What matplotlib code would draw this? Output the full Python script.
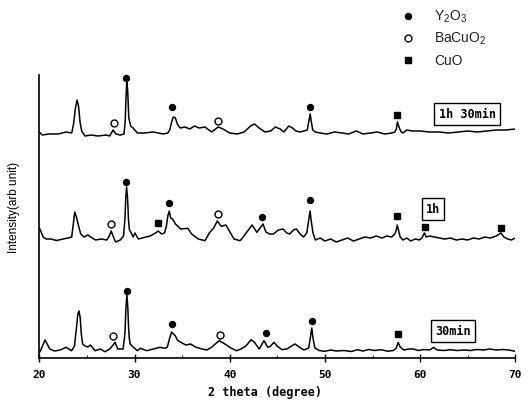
import matplotlib
matplotlib.use("Agg")
import matplotlib.pyplot as plt

plt.rcParams['mathtext.fontset'] = 'custom'
plt.rcParams['mathtext.rm'] = 'Liberation Sans'
plt.rcParams['mathtext.it'] = 'Liberation Sans'

# XRD patterns, (2 theta, intensity in arb. units, offsets included)
pts_1h30 = [(20.0, 226), (20.3, 223), (21.0, 224), (22.0, 224), (22.8, 226), (23.4, 225),
            (23.6, 234), (23.8, 250), (23.97, 258), (24.12, 252), (24.28, 236), (24.45, 227),
            (24.8, 222), (25.4, 223), (26.2, 222), (27.0, 223), (27.4, 222), (27.75, 228),
            (28.05, 224), (28.5, 223), (28.9, 224), (29.02, 236), (29.1, 258), (29.18, 276),
            (29.28, 268), (29.4, 240), (29.6, 232), (29.85, 230), (30.3, 225), (31.0, 225),
            (32.0, 226), (33.0, 224), (33.5, 225), (33.7, 228), (33.9, 236), (34.08, 241),
            (34.3, 240), (34.5, 234), (34.8, 230), (35.3, 231), (35.8, 229), (36.3, 232),
            (36.8, 230), (37.4, 231), (38.1, 226), (38.8, 231), (39.3, 229), (40.0, 225),
            (40.8, 224), (41.5, 226), (42.2, 232), (42.6, 234), (43.1, 230), (43.7, 226),
            (44.3, 227), (44.8, 231), (45.3, 229), (45.7, 226), (46.2, 232), (46.6, 230),
            (46.95, 227), (47.4, 226), (47.8, 227), (48.15, 228), (48.3, 236), (48.45, 244),
            (48.58, 236), (48.72, 228), (49.0, 226), (49.5, 225), (50.2, 224), (51.0, 226),
            (51.8, 225), (52.5, 224), (53.3, 227), (54.0, 224), (54.8, 225), (55.5, 226),
            (56.3, 224), (57.0, 225), (57.35, 226), (57.5, 229), (57.62, 236), (57.78, 231),
            (57.95, 227), (58.2, 225), (58.6, 228), (59.2, 227), (60.0, 227), (61.0, 226),
            (62.0, 226), (63.0, 225), (64.0, 226), (65.0, 227), (66.0, 226), (67.0, 227),
            (68.0, 228), (69.0, 228), (70.0, 229)]

pts_1h = [(20.0, 130), (20.15, 127), (20.4, 121), (20.7, 119), (21.2, 119), (21.8, 117.5),
          (22.5, 119), (23.0, 120), (23.4, 121), (23.55, 132), (23.72, 146), (23.9, 141),
          (24.1, 133), (24.35, 124), (24.7, 121), (25.1, 123), (25.4, 121), (25.9, 118),
          (26.5, 119), (27.1, 118), (27.35, 122), (27.55, 127), (27.75, 122), (28.0, 116),
          (28.5, 118), (28.85, 122), (29.0, 140), (29.08, 160), (29.17, 171), (29.27, 160),
          (29.37, 138), (29.47, 128), (29.6, 126), (29.85, 121), (30.05, 125), (30.4, 119),
          (31.1, 120.7), (31.65, 122), (32.2, 125), (32.5, 127), (32.85, 124), (33.15, 125),
          (33.35, 132), (33.5, 142), (33.65, 147), (33.8, 140), (34.0, 139), (34.3, 134),
          (34.85, 129), (35.6, 129.7), (36.0, 124), (36.7, 119), (37.4, 117.3), (37.9, 125.7),
          (38.3, 129.7), (38.7, 137), (39.1, 131.7), (39.6, 133), (39.95, 127.3), (40.45, 119),
          (41.1, 117.3), (41.65, 124), (42.35, 133), (42.85, 125.7), (43.5, 134), (43.8, 126),
          (44.2, 124), (44.6, 124), (45.1, 128), (45.6, 129), (46.0, 125), (46.3, 124),
          (46.7, 128), (47.0, 129), (47.4, 124), (47.75, 121), (48.1, 125), (48.3, 138),
          (48.44, 147), (48.58, 136), (48.75, 125), (49.0, 118), (49.5, 120), (50.0, 117),
          (50.6, 119), (51.2, 116), (51.8, 118), (52.4, 120), (53.0, 117), (53.6, 119),
          (54.2, 121), (54.8, 120), (55.4, 122), (56.0, 120), (56.5, 122), (57.0, 121),
          (57.35, 124), (57.5, 128), (57.6, 133), (57.75, 127), (57.9, 121), (58.2, 118),
          (58.6, 120), (59.0, 117), (59.5, 119), (59.9, 118), (60.2, 120), (60.45, 125),
          (60.65, 121), (61.0, 122), (61.5, 121), (62.0, 120), (62.6, 119), (63.2, 120),
          (63.8, 118), (64.4, 119), (65.0, 118), (65.6, 120), (66.2, 119), (66.8, 121),
          (67.4, 120), (68.0, 122), (68.5, 125), (68.8, 121), (69.2, 119), (69.6, 118),
          (70.0, 120)]

pts_30 = [(20.0, 5), (20.2, 9), (20.6, 18), (21.1, 9), (21.6, 7), (22.2, 8), (22.8, 10.7),
          (23.4, 7.3), (23.7, 12), (23.9, 30), (24.05, 44), (24.17, 47), (24.3, 40),
          (24.4, 25), (24.55, 14), (24.8, 12), (25.1, 11), (25.37, 13), (25.85, 7.3),
          (26.4, 9), (26.9, 6.3), (27.4, 9), (27.75, 13), (27.95, 15.7), (28.25, 9),
          (28.8, 9), (29.0, 25), (29.1, 50), (29.2, 63), (29.3, 50), (29.38, 30), (29.45, 20),
          (29.55, 14), (29.84, 11), (30.3, 7.3), (30.6, 9.7), (31.3, 7.3), (32.0, 9),
          (32.65, 10.7), (33.2, 9.7), (33.45, 11), (33.7, 20), (33.9, 26), (34.1, 24),
          (34.3, 22), (34.5, 18), (34.8, 16), (35.4, 13), (35.9, 14), (36.4, 11), (37.1, 9),
          (37.6, 8), (38.1, 10.7), (38.6, 15), (38.9, 17.3), (39.5, 14), (40.0, 10.7),
          (40.7, 7.3), (41.2, 9), (41.7, 12), (42.25, 18.3), (42.6, 15.7), (43.1, 9),
          (43.6, 17.3), (44.0, 10.7), (44.3, 12), (44.65, 15.7), (45.0, 11.7), (45.5, 8.3),
          (46.0, 9), (46.5, 12), (46.86, 14), (47.3, 11), (47.8, 8), (48.3, 10), (48.5, 22),
          (48.62, 30), (48.75, 20), (48.95, 10), (49.4, 7.5), (50.0, 6.7), (50.6, 8),
          (51.2, 7), (52.0, 7.5), (52.8, 6.5), (53.4, 8.3), (54.0, 7), (54.6, 8.5),
          (55.2, 7.5), (55.9, 8.3), (56.6, 6.8), (57.2, 7.5), (57.5, 10), (57.7, 15.7),
          (57.9, 11), (58.3, 8), (58.8, 9), (59.3, 9), (59.8, 7.5), (60.4, 8.5), (61.0, 8),
          (61.4, 10.5), (61.8, 8), (62.5, 7.5), (63.2, 8.3), (63.9, 7.5), (64.6, 8),
          (65.3, 7.5), (66.0, 8.5), (66.7, 8), (67.3, 9), (68.0, 8), (68.7, 8.5),
          (69.3, 8), (70.0, 6.7)]

patterns = [pts_1h30, pts_1h, pts_30]

# phase marks above peaks
y2o3_x = [29.1, 33.97, 48.43, 29.11, 33.65, 43.42, 48.44, 29.24, 33.9, 43.78, 48.68]
y2o3_y = [280, 250.7, 250.7, 176.3, 155, 141.3, 158, 66.7, 34, 25, 37]
bacuo2_x = [27.8, 38.8, 27.53, 38.8, 27.77, 38.98]
bacuo2_y = [235, 237.3, 134, 144, 22.3, 23]
cuo_x = [57.55, 32.5, 57.54, 60.51, 68.5, 57.71]
cuo_y = [243.3, 134.7, 141.7, 130.7, 130, 24]

times = ["1h 30min", "1h", "30min"]
time_x = [64.93, 61.35, 63.49]
time_y = [244, 149, 27]

fig = plt.figure(figsize=(5.31, 4.06), dpi=100)
ax = fig.add_axes([39.3 / 531, 1 - 359 / 406, 476 / 531, 283 / 406])

for p in patterns:
    ax.plot([a for a, b in p], [b for a, b in p], color='black', lw=1.1)

ax.plot(y2o3_x, y2o3_y, 'o', color='black', ms=4.3, clip_on=False)
ax.plot(bacuo2_x, bacuo2_y, 'o', mfc='white', mec='black', mew=1.0, ms=5, clip_on=False)
ax.plot(cuo_x, cuo_y, 's', color='black', ms=4.3, clip_on=False)

for t, x, y in zip(times, time_x, time_y):
    ax.text(x, y, t, ha='center', va='center', fontsize=8.5, fontweight='bold',
            family='DejaVu Sans Mono',
            bbox=dict(boxstyle='square,pad=0.35', fc='white', ec='black', lw=1.0))

ax.set_xlim(20, 70)
ax.set_ylim(0, 283)
ax.set_xticks([20, 30, 40, 50, 60, 70])
ax.set_xticklabels(["20", "30", "40", "50", "60", "70"], fontsize=8, fontweight='bold',
                   family='DejaVu Sans Mono')
ax.set_xticks([25, 35, 45, 55, 65], minor=True)
ax.tick_params(axis='x', which='major', direction='inout', length=6, width=1, pad=5)
ax.tick_params(axis='x', which='minor', direction='in', length=2, width=0.8)
ax.set_yticks([])
for s in ['top', 'right']:
    ax.spines[s].set_visible(False)
ax.spines['left'].set_linewidth(1.2)
ax.spines['bottom'].set_linewidth(1.2)

fig.text(0.499, 0.034, "2 theta (degree)", ha='center', va='center', fontsize=8.5,
         fontweight='bold', family='DejaVu Sans Mono')
fig.text(0.026, 0.49, "Intensity(arb unit)", ha='center', va='center', rotation=90,
         fontsize=8.5, family='Liberation Sans')

# legend
leg_labels = [r"Y$_2$O$_3$", r"BaCuO$_2$", "CuO"]
leg_y = [1 - 17 / 406, 1 - 39 / 406, 1 - 61 / 406]
ax.plot([408 / 531], [leg_y[0]], 'o', color='black', ms=4.3, transform=fig.transFigure, clip_on=False)
ax.plot([408 / 531], [leg_y[1]], 'o', mfc='white', mec='black', mew=1.0, ms=5,
        transform=fig.transFigure, clip_on=False)
ax.plot([408 / 531], [leg_y[2]], 's', color='black', ms=4.3, transform=fig.transFigure, clip_on=False)
for lab, y in zip(leg_labels, leg_y):
    fig.text(434 / 531, y, lab, ha='left', va='center', fontsize=10, color='#222222',
             family='Liberation Sans')

fig.savefig("out.png", dpi=100)
